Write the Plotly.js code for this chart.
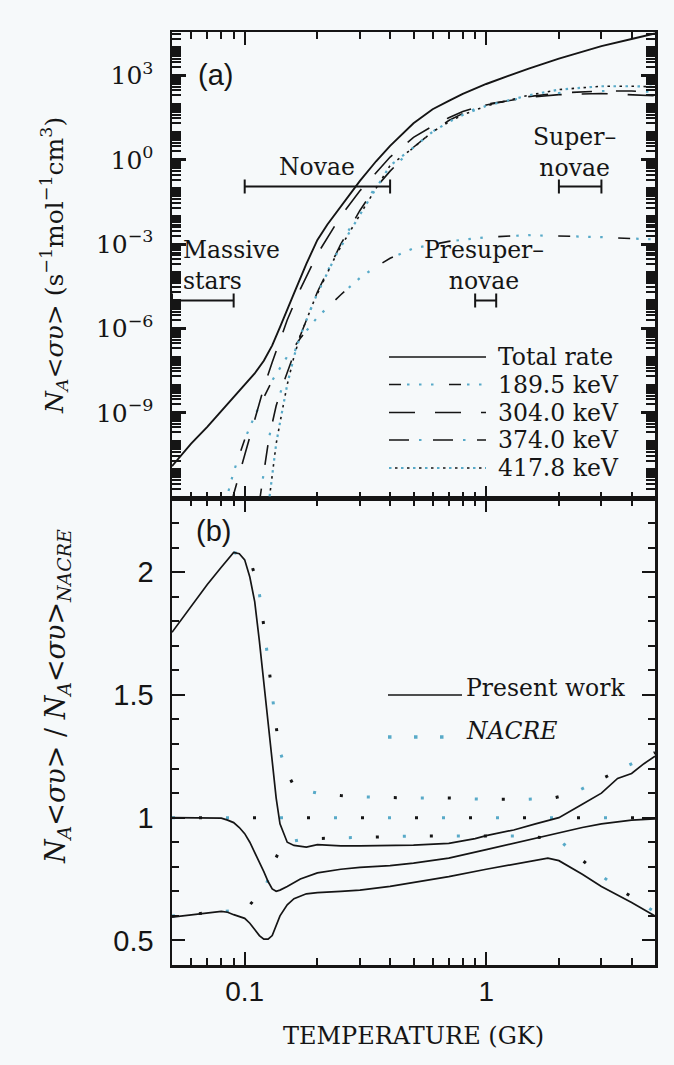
<!DOCTYPE html>
<html><head><meta charset="utf-8">
<script src="https://cdn.plot.ly/plotly-3.0.1.min.js"></script>
<style>html,body{margin:0;padding:0;background:#f6f9fa;}#chart{width:674px;height:1065px;}</style>
</head><body><div id="chart"></div>
<script>
// ---------- DATA ----------
// Panel (a): reaction rate, values stored as log10 of N_A<σv>
const totalT   = [0.05,0.06,0.07,0.08,0.09,0.1,0.11,0.12,0.13,0.14,0.15,0.16,0.18,0.2,0.22,0.25,0.3,0.35,0.4,0.5,0.6,0.7,0.8,1.0,1.3,1.5,2.0,2.5,3.0,4.0,5.0];
const totalExp = [-10.9,-10.1,-9.5,-8.95,-8.45,-8.0,-7.6,-7.15,-6.6,-5.95,-5.3,-4.75,-3.7,-2.85,-2.3,-1.65,-0.75,-0.05,0.5,1.3,1.8,2.1,2.35,2.7,3.05,3.25,3.6,3.85,4.05,4.3,4.5];

const r189T   = [0.082,0.09,0.1,0.11,0.12,0.13,0.15,0.17,0.2,0.25,0.3,0.35,0.4,0.5,0.7,1.0,1.5,2.0,3.0,4.0,5.0];
const r189Exp = [-12.4,-11.1,-9.95,-9.1,-8.45,-7.85,-7.0,-6.35,-5.6,-4.8,-4.2,-3.8,-3.5,-3.15,-2.9,-2.75,-2.68,-2.7,-2.75,-2.8,-2.83];

const r304T   = [0.087,0.09,0.1,0.11,0.12,0.13,0.15,0.17,0.2,0.25,0.3,0.4,0.5,0.6,0.7,0.8,1.0,1.5,2.0,3.0,4.0,5.0];
const r304Exp = [-12.4,-11.9,-10.5,-9.2,-8.1,-7.2,-5.7,-4.6,-3.35,-2.0,-1.1,0.1,0.8,1.2,1.5,1.72,1.98,2.22,2.32,2.36,2.33,2.28];

const r374T   = [0.114,0.12,0.126,0.135,0.146,0.16,0.17,0.2,0.25,0.3,0.34,0.4,0.5,0.6,0.7,0.8,1.0,1.5,2.0,3.0,4.0,5.0];
const r374Exp = [-12.4,-11.1,-9.9,-8.75,-7.85,-6.9,-6.25,-4.7,-3.0,-1.8,-1.1,-0.4,0.45,1.0,1.4,1.65,1.95,2.25,2.38,2.45,2.45,2.42];

const r418T   = [0.125,0.13,0.135,0.14,0.15,0.16,0.17,0.194,0.24,0.31,0.4,0.5,0.6,0.7,0.8,1.0,1.5,2.0,3.0,4.0,5.0];
const r418Exp = [-12.4,-11.2,-10.1,-9.35,-8.0,-7.0,-6.25,-5.0,-3.35,-1.75,-0.2,0.44,1.0,1.35,1.6,1.92,2.3,2.5,2.62,2.62,2.6];

const seriesNames = ['Total rate','189.5 keV','304.0 keV','374.0 keV','417.8 keV'];

// astrophysical temperature ranges
const regionNames   = ['Novae','Super–<br>novae','Presuper–<br>novae','Massive<br>stars'];
const regionTmin    = [0.1, 2.0, 0.9, 0.05];
const regionTmax    = [0.4, 3.0, 1.1, 0.09];
const regionRateExp = [-0.95, -0.95, -5.0, -5.0];

// Panel (b): ratio to NACRE
const upT = [0.05,0.06,0.07,0.08,0.09,0.095,0.1,0.105,0.11,0.115,0.12,0.125,0.13,0.135,0.14,0.15,0.16,0.18,0.2,0.25,0.3,0.4,0.5,0.7,0.9,1.0,1.3,1.6,2.0,2.5,3.0,3.5,4.0,4.5,5.0];
const upV = [1.755,1.86,1.95,2.02,2.08,2.075,2.05,1.98,1.88,1.72,1.55,1.4,1.22,1.08,0.975,0.9,0.887,0.88,0.89,0.885,0.885,0.885,0.888,0.895,0.915,0.927,0.95,0.975,1.0,1.055,1.1,1.16,1.18,1.22,1.25];
const midT = [0.05,0.06,0.07,0.08,0.085,0.09,0.095,0.1,0.105,0.11,0.115,0.12,0.125,0.13,0.135,0.14,0.15,0.17,0.2,0.25,0.3,0.4,0.5,0.7,1.0,1.5,2.0,2.5,3.0,4.0,5.0];
const midV = [1.0,1.0,1.0,0.998,0.99,0.98,0.96,0.935,0.9,0.86,0.82,0.78,0.74,0.71,0.70,0.705,0.72,0.75,0.775,0.79,0.798,0.805,0.815,0.835,0.87,0.91,0.94,0.96,0.975,0.99,0.995];
const lowT = [0.05,0.06,0.07,0.08,0.085,0.09,0.1,0.105,0.11,0.115,0.12,0.125,0.13,0.135,0.14,0.15,0.16,0.18,0.2,0.25,0.3,0.4,0.5,0.7,1.0,1.5,1.8,2.0,2.5,3.0,4.0,5.0];
const lowV = [0.595,0.605,0.612,0.618,0.615,0.605,0.59,0.57,0.545,0.52,0.505,0.505,0.52,0.56,0.6,0.645,0.67,0.69,0.695,0.70,0.705,0.72,0.735,0.76,0.79,0.82,0.835,0.825,0.77,0.72,0.655,0.6];

const nUpT = [0.09,0.1,0.106,0.114,0.12,0.125,0.13,0.135,0.14,0.15,0.16,0.18,0.2,0.25,0.3,0.5,0.7,1.0,1.5,1.9,2.3,2.9,3.6,4.4,5.0];
const nUpV = [2.08,2.07,2.04,1.94,1.78,1.63,1.5,1.37,1.27,1.18,1.13,1.11,1.1,1.09,1.085,1.08,1.08,1.075,1.075,1.08,1.1,1.15,1.2,1.24,1.265];
const nMidT = [0.05,0.1,0.2,0.5,1.0,2.0,5.0];
const nMidV = [1.0,1.0,1.0,1.0,1.0,1.0,1.0];
const nLowT = [0.05,0.08,0.1,0.105,0.115,0.123,0.133,0.14,0.15,0.17,0.2,0.3,0.5,1.0,1.5,2.0,2.3,2.8,3.5,4.1,5.0];
const nLowV = [0.6,0.615,0.625,0.645,0.69,0.73,0.825,0.87,0.9,0.91,0.915,0.92,0.925,0.925,0.925,0.91,0.857,0.785,0.715,0.67,0.615];

// ticks
const tempTickVals = [0.1, 1];
const tempTickText = ['0.1', '1'];
const tempMinorVals = [0.06,0.07,0.08,0.09,0.2,0.3,0.4,0.5,0.6,0.7,0.8,0.9,2,3,4,5];
const rateDecades = [-12,-11,-10,-9,-8,-7,-6,-5,-4,-3,-2,-1,0,1,2,3,4];
const rateLabelExp = [-9,-6,-3,0,3];
const rateLabelText = ['10<sup>−9</sup>','10<sup>−6</sup>','10<sup>−3</sup>','10<sup>0</sup>','10<sup>3</sup>'];
const ratioTickVals = [0.5, 1, 1.5, 2];
const ratioTickText = ['0.5', '1', '1.5', '2'];

// ---------- DRAWING ----------
const W=674,H=1065,ML=172,MR=19,MT=32,MB=100;
const PW=W-ML-MR, PH=H-MT-MB;
const fx = px => (px-ML)/PW;
const fy = py => 1-(py-MT)/PH;
const pow10 = a => a.map(v => Math.pow(10, v));
const INK='#151515', CYAN='#58aac8', BG='#f6f9fa';
const SERIF='DejaVu Serif, serif', SANS='Liberation Sans, Arial, sans-serif';
const TXT = 23.5;

const traces = [];
// partial rates: each drawn with black dashes and cyan dots
const partials = [
  {T:r189T, E:r189Exp, name:seriesNames[1], black:'12px,48px', cyan:'0px,18px,2.5px,9.5px,2.5px,9.5px,2.5px,15.5px'},
  {T:r304T, E:r304Exp, name:seriesNames[2], black:'26px,20px', cyan:null},
  {T:r374T, E:r374Exp, name:seriesNames[3], black:'20px,24px', cyan:'0px,30px,2.5px,11.5px'},
  {T:r418T, E:r418Exp, name:seriesNames[4], black:'0px,6px,2.5px,3.5px', cyan:'2.5px,9.5px'}
];
partials.forEach(p => {
  if (p.cyan) traces.push({x:p.T, y:pow10(p.E), xaxis:'x2', yaxis:'y2', mode:'lines', name:p.name,
    line:{color:CYAN, width:2.2, dash:p.cyan}, hoverinfo:'skip'});
  traces.push({x:p.T, y:pow10(p.E), xaxis:'x2', yaxis:'y2', mode:'lines', name:p.name,
    line:{color:INK, width:1.6, dash:p.black}, hoverinfo:'skip'});
});
traces.push({x:totalT, y:pow10(totalExp), xaxis:'x2', yaxis:'y2', mode:'lines', name:seriesNames[0],
  line:{color:INK, width:1.9}});

// temperature-range bars
const mids = regionTmin.map((a,i) => Math.sqrt(a*regionTmax[i]));
traces.push({x:mids, y:pow10(regionRateExp), xaxis:'x2', yaxis:'y2', mode:'markers',
  marker:{size:2, color:'rgba(0,0,0,0)'}, hoverinfo:'skip', name:'ranges',
  error_x:{type:'data', symmetric:false, array:mids.map((m,i)=>regionTmax[i]-m),
           arrayminus:mids.map((m,i)=>m-regionTmin[i]), color:INK, thickness:2, width:7}});

// panel (b)
[[nUpT,nUpV],[nMidT,nMidV],[nLowT,nLowV]].forEach(([t,v]) => {
  traces.push({x:t, y:v, xaxis:'x', yaxis:'y', mode:'lines', name:'NACRE', line:{color:CYAN, width:3, dash:'3px,51px'}, hoverinfo:'skip'});
  traces.push({x:t, y:v, xaxis:'x', yaxis:'y', mode:'lines', name:'NACRE', line:{color:INK, width:3, dash:'0px,27px,3px,24px'}, hoverinfo:'skip'});
});
[[upT,upV],[midT,midV],[lowT,lowV]].forEach(([t,v]) => {
  traces.push({x:t, y:v, xaxis:'x', yaxis:'y', mode:'lines', name:'Present work', line:{color:INK, width:1.7}});
});

const axCommon = {showline:true, linecolor:INK, linewidth:2.5, mirror:'ticks', ticks:'inside',
  tickcolor:INK, showgrid:false, zeroline:false};

const xBase = Object.assign({}, axCommon, {type:'log', range:[Math.log10(0.05), Math.log10(5)],
  tickmode:'array', tickvals:tempTickVals, ticktext:tempTickText, ticklen:13, tickwidth:2,
  tickfont:{family:SANS, size:28, color:INK}, ticklabelstandoff:0,
  minor:{tickmode:'array', tickvals:tempMinorVals, ticks:'inside', ticklen:7, tickwidth:2, tickcolor:INK, showgrid:false}});

// minor ticks of the rate axis: unlabeled decades and 2..9 multiples
const rateMinor = [];
rateDecades.forEach(k => {
  if (!rateLabelExp.includes(k)) rateMinor.push(Math.pow(10,k));
  for (let m=2; m<=9; m++) rateMinor.push(m*Math.pow(10,k));
});

const layout = {
  width:W, height:H, margin:{l:ML, r:MR, t:MT, b:MB},
  paper_bgcolor:BG, plot_bgcolor:BG, showlegend:false, hovermode:false,
  xaxis: Object.assign({}, xBase, {anchor:'y', domain:[0,1]}),
  xaxis2: Object.assign({}, xBase, {anchor:'y2', matches:'x', showticklabels:false}),
  yaxis: Object.assign({}, axCommon, {domain:[0,0.5], range:[0.4,2.3], tickmode:'array',
    tickvals:ratioTickVals, ticktext:ratioTickText, ticklen:13, tickwidth:2,
    tickfont:{family:SANS, size:29, color:INK}, ticklabelstandoff:10,
    minor:{dtick:0.1, tick0:0, ticks:'inside', ticklen:7, tickwidth:2, tickcolor:INK, showgrid:false}}),
  yaxis2: Object.assign({}, axCommon, {domain:[0.5,1], type:'log', range:[-12.05,4.55], tickmode:'array',
    tickvals:rateLabelExp.map(k=>Math.pow(10,k)), ticktext:rateLabelText,
    ticklen:14, tickwidth:3, tickfont:{family:SERIF, size:25, color:INK}, ticklabelstandoff:11,
    minor:{tickmode:'array', tickvals:rateMinor, ticks:'inside', ticklen:9, tickwidth:2, tickcolor:INK, showgrid:false}}),
  shapes:[], annotations:[]
};

// legend (a)
const legA = [
  {y:357, black:'solid', cyan:null},
  {y:384.5, black:partials[0].black, cyan:partials[0].cyan},
  {y:412.5, black:partials[1].black, cyan:null},
  {y:440, black:partials[2].black, cyan:partials[2].cyan},
  {y:468, black:partials[3].black, cyan:partials[3].cyan}
];
legA.forEach((L,i) => {
  if (L.cyan) layout.shapes.push({type:'line', xref:'paper', yref:'paper', x0:fx(389), x1:fx(486), y0:fy(L.y), y1:fy(L.y), line:{color:CYAN, width:2.2, dash:L.cyan}});
  layout.shapes.push({type:'line', xref:'paper', yref:'paper', x0:fx(389), x1:fx(486), y0:fy(L.y), y1:fy(L.y), line:{color:INK, width:1.7, dash:L.black}});
  layout.annotations.push({xref:'paper', yref:'paper', x:fx(496), y:fy(L.y), xanchor:'left', yanchor:'middle',
    text:seriesNames[i], showarrow:false, font:{family:SERIF, size:TXT, color:INK}});
});
// legend (b)
layout.shapes.push({type:'line', xref:'paper', yref:'paper', x0:fx(388), x1:fx(462), y0:fy(695), y1:fy(695), line:{color:INK, width:1.7}});
layout.shapes.push({type:'line', xref:'paper', yref:'paper', x0:fx(388), x1:fx(446), y0:fy(737), y1:fy(737), line:{color:CYAN, width:3.5, dash:'3.5px,22.5px'}});
layout.annotations.push({xref:'paper', yref:'paper', x:fx(464), y:fy(688), xanchor:'left', yanchor:'middle',
  text:'Present work', showarrow:false, font:{family:SERIF, size:TXT, color:INK}});
layout.annotations.push({xref:'paper', yref:'paper', x:fx(464), y:fy(731), xanchor:'left', yanchor:'middle',
  text:'<i>NACRE</i>', showarrow:false, font:{family:SERIF, size:TXT, color:INK}});

// region labels
const regionLabelPos = [[317,167,'center'],[574,152,'center'],[484,266,'center'],[181,266,'left']];
regionNames.forEach((n,i) => {
  const [px,py,al] = regionLabelPos[i];
  layout.annotations.push({xref:'paper', yref:'paper', x:fx(px), y:fy(py), xanchor:al, yanchor:'middle', align:al,
    text:n, showarrow:false, font:{family:SERIF, size:TXT, color:INK}});
});
// panel letters
layout.annotations.push({xref:'paper', yref:'paper', x:fx(215), y:fy(75), xanchor:'center', yanchor:'middle', text:'(a)', showarrow:false, font:{family:SANS, size:29, color:INK}});
layout.annotations.push({xref:'paper', yref:'paper', x:fx(213), y:fy(531), xanchor:'center', yanchor:'middle', text:'(b)', showarrow:false, font:{family:SANS, size:29, color:INK}});
// axis titles
const rateTitle = '<i>N</i><sub><i>A</i></sub>&lt;<i>συ</i>&gt; (s<sup>−1</sup>mol<sup>−1</sup>cm<sup>3</sup>)';
const ratioTitle = '<i>N</i><sub><i>A</i></sub>&lt;<i>συ</i>&gt; / <i>N</i><sub><i>A</i></sub>&lt;<i>συ</i>&gt;<sub><i>NACRE</i></sub>';
layout.annotations.push({xref:'paper', yref:'paper', x:fx(54), y:fy(266), xanchor:'center', yanchor:'middle', textangle:-90, text:rateTitle, showarrow:false, font:{family:SERIF, size:25, color:INK}});
layout.annotations.push({xref:'paper', yref:'paper', x:fx(57), y:fy(697), xanchor:'center', yanchor:'middle', textangle:-90, text:ratioTitle, showarrow:false, font:{family:SERIF, size:27, color:INK}});
layout.annotations.push({xref:'paper', yref:'paper', x:fx(413), y:fy(1036), xanchor:'center', yanchor:'middle', text:'TEMPERATURE (GK)', showarrow:false, font:{family:SERIF, size:24, color:INK}});

Plotly.newPlot('chart', traces, layout, {displayModeBar:false, staticPlot:true});
</script>
</body></html>
